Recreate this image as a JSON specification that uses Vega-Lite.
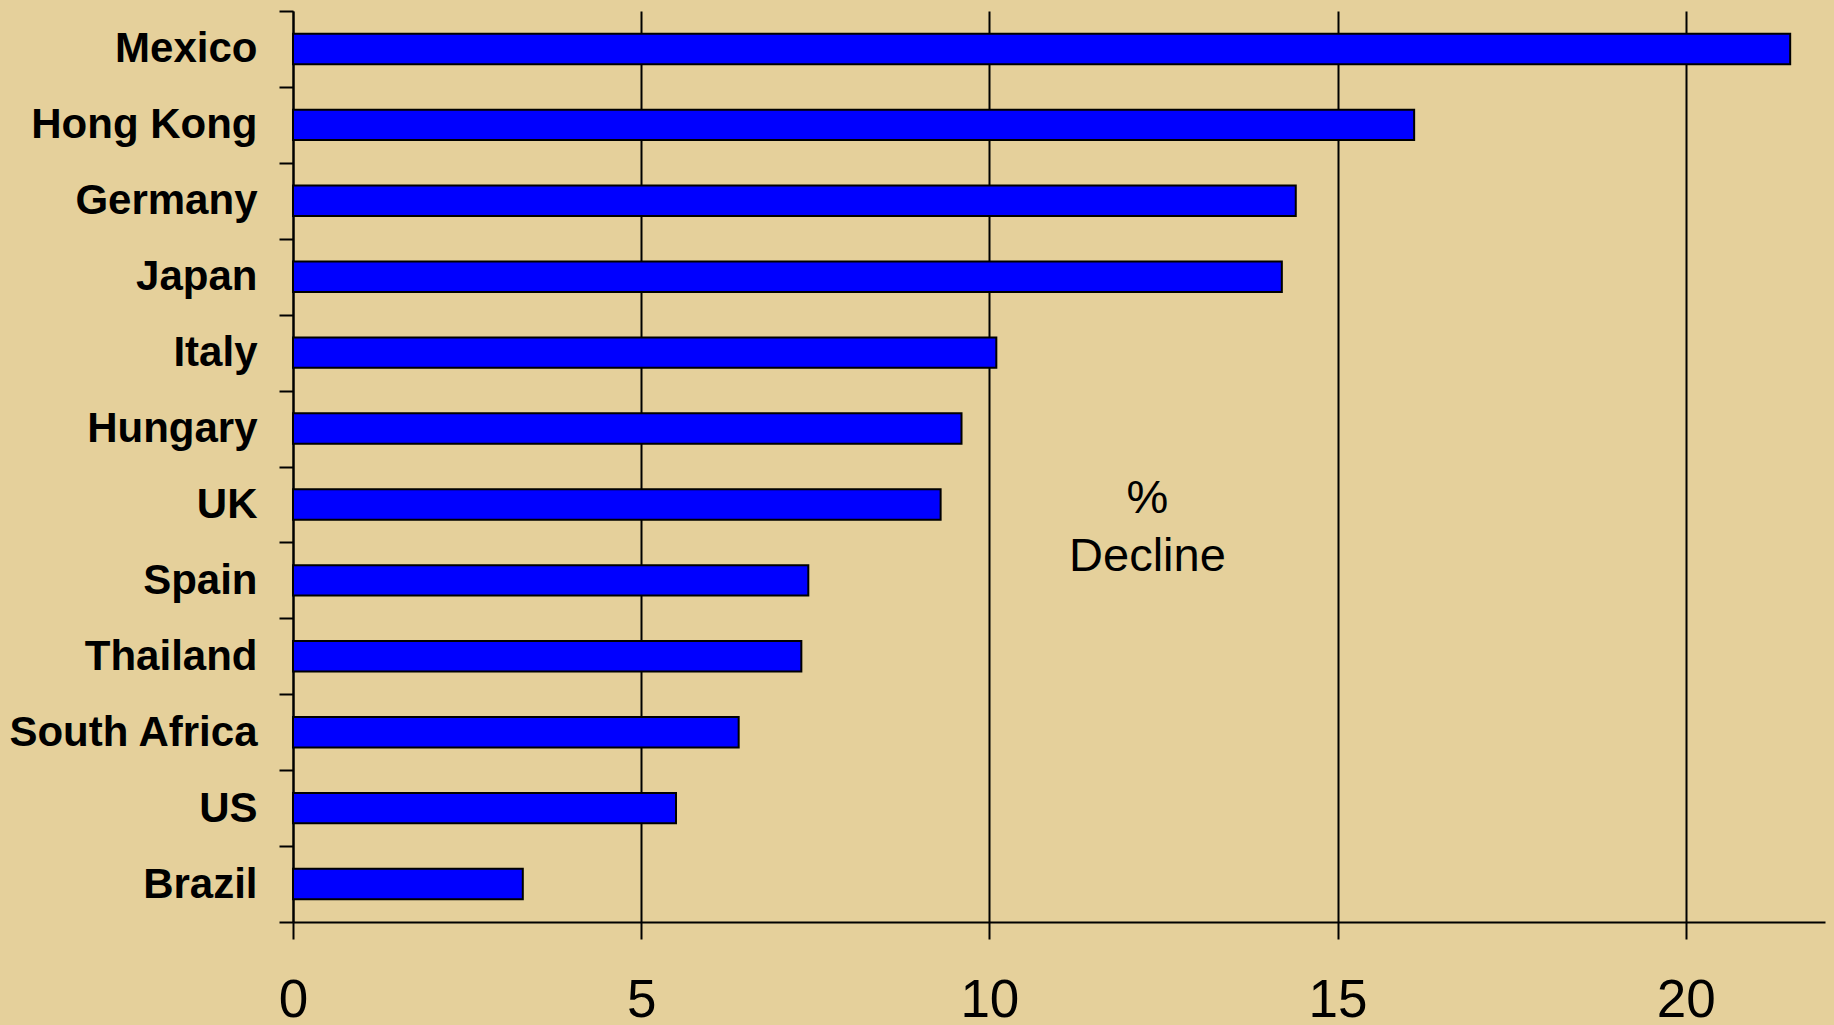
{
  "$schema": "https://vega.github.io/schema/vega-lite/v6.json",
  "autosize": {"type": "none"},
  "padding": {"left": 293, "top": 11, "right": 9, "bottom": 103},
  "width": 1532,
  "height": 911,
  "background": "#E5D09B",
  "config": {
    "view": {"stroke": null},
    "font": "Liberation Sans",
    "text": {"lineBreak": "|"}
  },
  "datasets": {
    "decline": [
      {"country": "Mexico", "pct": 21.5},
      {"country": "Hong Kong", "pct": 16.1},
      {"country": "Germany", "pct": 14.4},
      {"country": "Japan", "pct": 14.2},
      {"country": "Italy", "pct": 10.1},
      {"country": "Hungary", "pct": 9.6},
      {"country": "UK", "pct": 9.3},
      {"country": "Spain", "pct": 7.4},
      {"country": "Thailand", "pct": 7.3},
      {"country": "South Africa", "pct": 6.4},
      {"country": "US", "pct": 5.5},
      {"country": "Brazil", "pct": 3.3}
    ],
    "note": [
      {"country": "UK", "pct": 12.27, "label": "%|Decline"}
    ]
  },
  "layer": [
    {
      "data": {"name": "decline"},
      "mark": {"type": "bar", "fill": "#0000FF", "stroke": "#000000", "strokeWidth": 2, "height": {"band": 0.4}},
      "encoding": {
        "y": {
          "field": "country",
          "type": "nominal",
          "sort": null,
          "scale": {"paddingInner": 0, "paddingOuter": 0},
          "axis": {
            "title": null,
            "orient": "left",
            "domainColor": "#000000",
            "domainWidth": 2,
            "tickBand": "extent",
            "tickColor": "#000000",
            "tickWidth": 2,
            "tickSize": 14,
            "labelFont": "Liberation Sans",
            "labelFontWeight": "bold",
            "labelFontSize": 42,
            "labelColor": "#000000",
            "labelPadding": 22,
            "labelLimit": 0,
            "grid": false
          }
        },
        "x": {
          "field": "pct",
          "type": "quantitative",
          "scale": {"domain": [0, 22], "nice": false, "zero": true},
          "axis": {
            "title": null,
            "orient": "bottom",
            "values": [0, 5, 10, 15, 20],
            "format": "d",
            "labelFlush": false,
            "labelOverlap": false,
            "domainColor": "#000000",
            "domainWidth": 2,
            "tickColor": "#000000",
            "tickWidth": 2,
            "tickSize": 17,
            "labelFont": "Liberation Sans",
            "labelFontSize": 53,
            "labelColor": "#000000",
            "labelPadding": 35,
            "grid": true,
            "gridColor": "#000000",
            "gridWidth": 2,
            "gridOpacity": 1
          }
        }
      }
    },
    {
      "data": {"name": "note"},
      "mark": {
        "type": "text",
        "font": "Liberation Sans",
        "fontSize": 47,
        "lineHeight": 58,
        "align": "center",
        "baseline": "alphabetic",
        "dy": 9,
        "color": "#000000"
      },
      "encoding": {
        "y": {"field": "country", "type": "nominal", "sort": null},
        "x": {"field": "pct", "type": "quantitative"},
        "text": {"field": "label"}
      }
    }
  ]
}
